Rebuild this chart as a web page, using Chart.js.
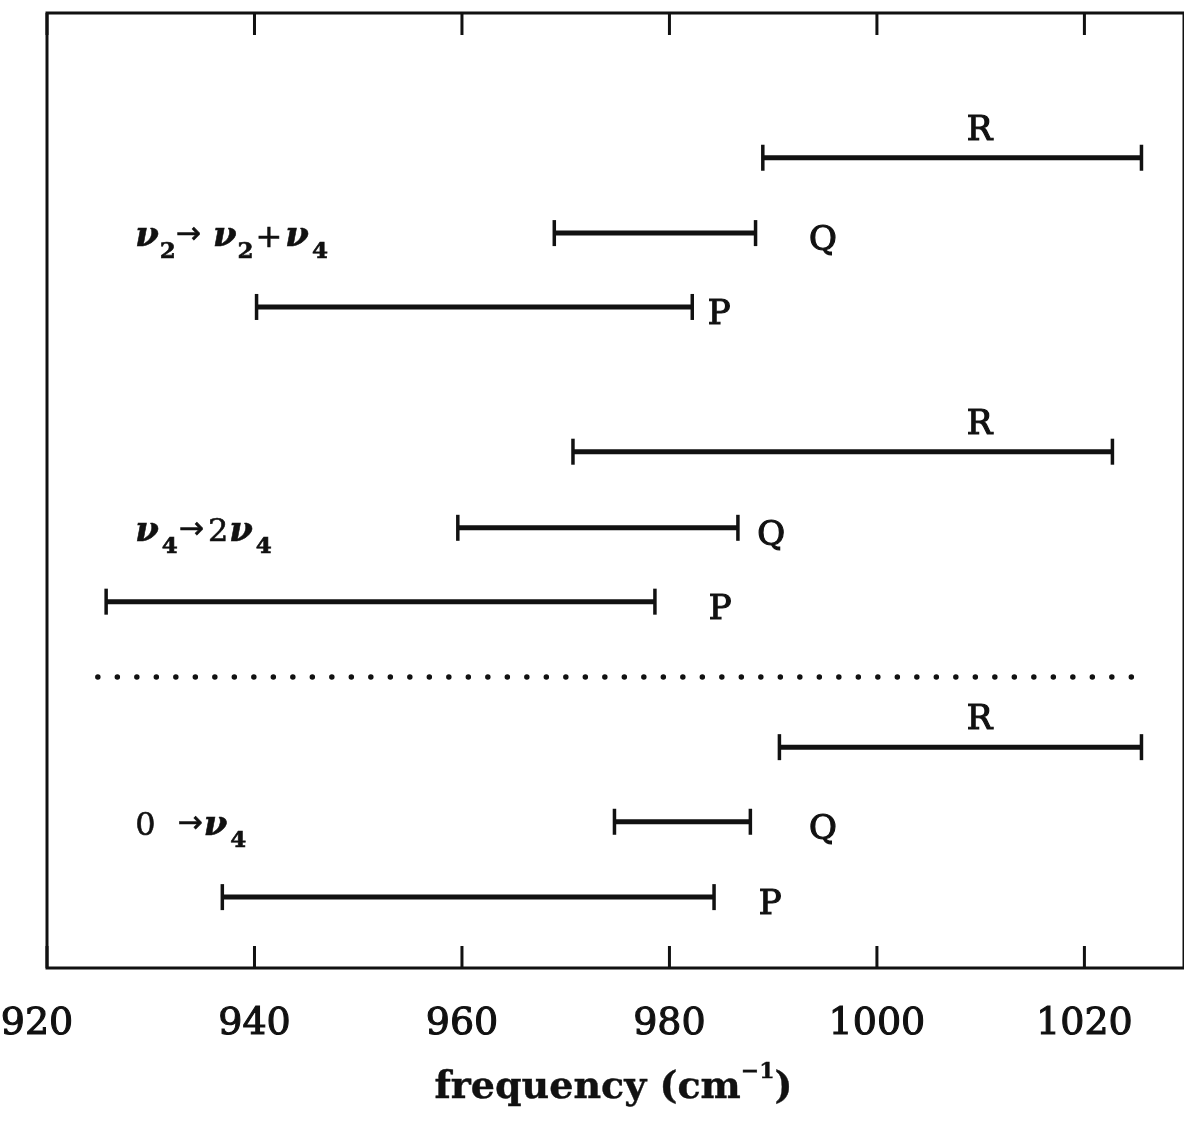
<!DOCTYPE html>
<html>
<head>
<meta charset="utf-8">
<script src="https://cdn.jsdelivr.net/npm/chart.js@4/dist/chart.umd.min.js"></script>
<style>
  html, body { margin: 0; padding: 0; background: #fff; overflow: hidden; }
  #wrap { width: 1184px; height: 1141px; }
</style>
</head>
<body>
<div id="wrap"><canvas id="bandChart" width="1184" height="1141"></canvas></div>
<script>
// frequency axis ticks (cm-1)
const xTicks = [920, 940, 960, 980, 1000, 1020];
const tickLabels = ["920", "940", "960", "980", "1000", "1020"];
const branches = ["R", "Q", "P"];

// band ranges for each branch, R / Q / P order
const upperStart = [989.0, 968.9, 940.2];
const upperEnd = [1025.5, 988.3, 982.2];
const hotStart = [970.7, 959.6, 925.7];
const hotEnd = [1022.7, 986.6, 978.6];
const fundStart = [990.6, 974.7, 936.9];
const fundEnd = [1025.5, 987.8, 984.3];

// vertical levels of the rows
const upperRows = [10.86, 9.85, 8.86];
const hotRows = [6.92, 5.9, 4.91];
const fundRows = [2.96, 1.96, 0.95];
const dividerRow = 3.9;
const dividerRange = [924.9, 1024.8];

// where the branch letters sit (cm-1)
const upperLetterX = [1009.9, 994.8, 984.8];
const hotLetterX = [1009.9, 989.8, 984.9];
const fundLetterX = [1009.9, 994.8, 989.7];
const groupLabelX = 928.5;

const ink = "#111";
const serif = "'DejaVu Serif', 'Liberation Serif', serif";

function bandSets(starts, ends, rows) {
  return starts.map((s, i) => ({
    data: [{ x: s, y: rows[i] }, { x: ends[i], y: rows[i] }],
    showLine: true,
    borderColor: ink,
    borderWidth: 5,
    pointStyle: "line",
    rotation: 90,
    pointRadius: 13,
    pointHoverRadius: 13,
    pointBorderWidth: 3.5,
    pointBorderColor: ink,
  }));
}

const datasets = [
  ...bandSets(upperStart, upperEnd, upperRows),
  ...bandSets(hotStart, hotEnd, hotRows),
  ...bandSets(fundStart, fundEnd, fundRows),
  {
    // dotted divider between the fundamental and the hot bands
    data: [{ x: dividerRange[0], y: dividerRow }, { x: dividerRange[1], y: dividerRow }],
    showLine: true,
    borderColor: ink,
    borderWidth: 5.5,
    borderCapStyle: "round",
    borderDash: [0, 19.5],
    pointRadius: 0,
  },
];

// slightly heavier text, like the old plotter lettering
function heavyText(ctx, t, x, y) {
  ctx.fillText(t, x, y);
  ctx.strokeText(t, x, y);
}

// draws a run of text pieces (main glyphs, sub/superscripts)
function drawRuns(ctx, x, y, runs) {
  runs.forEach((r) => {
    ctx.font = r.f;
    x += r.dx || 0;
    heavyText(ctx, r.t, x, y + (r.dy || 0));
    x += ctx.measureText(r.t).width;
  });
}

function runsWidth(ctx, runs) {
  return runs.reduce((w, r) => {
    ctx.font = r.f;
    return w + (r.dx || 0) + ctx.measureText(r.t).width;
  }, 0);
}

// box around the plot, inward ticks top and bottom, tick labels and axis title
const framePlugin = {
  id: "frame",
  afterDraw(chart) {
    const { ctx, chartArea: a, scales } = chart;
    ctx.save();
    ctx.strokeStyle = ink;
    ctx.fillStyle = ink;
    ctx.lineWidth = 3;
    ctx.strokeRect(a.left, a.top, a.right - a.left, a.bottom - a.top);
    xTicks.forEach((v) => {
      const px = scales.x.getPixelForValue(v);
      ctx.beginPath();
      ctx.moveTo(px, a.bottom);
      ctx.lineTo(px, a.bottom - 22);
      ctx.moveTo(px, a.top);
      ctx.lineTo(px, a.top + 22);
      ctx.stroke();
    });

    ctx.lineWidth = 1.1;
    ctx.textAlign = "center";
    ctx.textBaseline = "alphabetic";
    ctx.font = "38px " + serif;
    xTicks.forEach((v, i) => {
      const px = scales.x.getPixelForValue(v) - (i === 0 ? 10 : 0);
      heavyText(ctx, tickLabels[i], px, a.bottom + 66);
    });

    ctx.textAlign = "left";
    const title = [
      { t: "frequency (cm", f: "bold 38px " + serif },
      { t: "−1", f: "bold 22px " + serif, dy: -20 },
      { t: ")", f: "bold 38px " + serif },
    ];
    const w = runsWidth(ctx, title);
    ctx.lineWidth = 0.4;
    drawRuns(ctx, (a.left + a.right) / 2 - w / 2 - 2, a.bottom + 130, title);
    ctx.restore();
  },
};

const nu = "bold italic 34px " + serif;
const sub = "bold 23px " + serif;
const arrow = "30px 'DejaVu Sans', sans-serif";
const big = "32px " + serif;

const groupLabels = [
  {
    row: upperRows[1],
    runs: [
      { t: "ν", f: nu },
      { t: "2", f: sub, dx: 1, dy: 12 },
      { t: "→", f: arrow, dx: 0, dy: -3 },
      { t: "ν", f: nu, dx: 12 },
      { t: "2", f: sub, dx: 1, dy: 12 },
      { t: "+", f: big, dx: 2, dy: 1 },
      { t: "ν", f: nu, dx: 3 },
      { t: "4", f: sub, dx: 3, dy: 12 },
    ],
  },
  {
    row: hotRows[1],
    runs: [
      { t: "ν", f: nu },
      { t: "4", f: sub, dx: 3, dy: 12 },
      { t: "→", f: arrow, dx: 1, dy: -3 },
      { t: "2", f: big, dx: 4 },
      { t: "ν", f: nu, dx: 1 },
      { t: "4", f: sub, dx: 3, dy: 12 },
    ],
  },
  {
    row: fundRows[1],
    runs: [
      { t: "0", f: big },
      { t: "→", f: arrow, dx: 22, dy: -3 },
      { t: "ν", f: nu, dx: 1 },
      { t: "4", f: sub, dx: 3, dy: 12 },
    ],
  },
];

const labelPlugin = {
  id: "bandLabels",
  afterDraw(chart) {
    const { ctx, scales } = chart;
    ctx.save();
    ctx.fillStyle = ink;
    ctx.strokeStyle = ink;
    ctx.lineWidth = 1.2;
    ctx.textBaseline = "alphabetic";

    // branch letters: R sits above its bar, Q and P beside theirs
    ctx.font = "34px " + serif;
    ctx.textAlign = "center";
    [
      [upperLetterX, upperRows],
      [hotLetterX, hotRows],
      [fundLetterX, fundRows],
    ].forEach(([xs, rows]) => {
      branches.forEach((b, i) => {
        const px = scales.x.getPixelForValue(xs[i]);
        const py = scales.y.getPixelForValue(rows[i]) + (b === "R" ? -18 : 17);
        heavyText(ctx, b, px, py);
      });
    });

    ctx.textAlign = "left";
    ctx.lineWidth = 0.6;
    groupLabels.forEach((g) => {
      const px = scales.x.getPixelForValue(groupLabelX);
      const py = scales.y.getPixelForValue(g.row) + 13;
      drawRuns(ctx, px, py, g.runs);
    });
    ctx.restore();
  },
};

new Chart(document.getElementById("bandChart").getContext("2d"), {
  type: "scatter",
  data: { datasets },
  options: {
    responsive: false,
    animation: false,
    events: [],
    layout: { autoPadding: false, padding: { left: 47, top: 13, right: 0, bottom: 173 } },
    plugins: { legend: { display: false }, tooltip: { enabled: false } },
    scales: {
      x: { type: "linear", min: 920, max: 1029.6, display: false },
      y: { type: "linear", min: 0, max: 12.8, display: false },
    },
  },
  plugins: [framePlugin, labelPlugin],
});
</script>
</body>
</html>
